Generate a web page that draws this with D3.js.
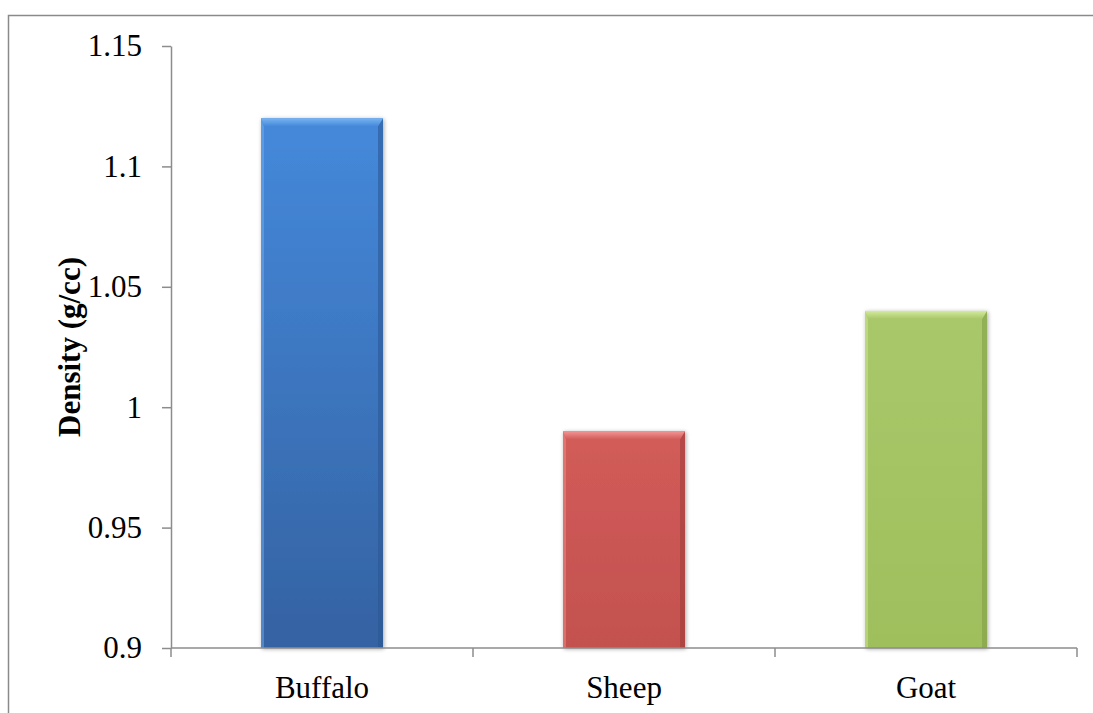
<!DOCTYPE html>
<html>
<head>
<meta charset="utf-8">
<script src="https://cdn.jsdelivr.net/npm/d3@7"></script>
<style>
  html, body { margin: 0; padding: 0; background: #fff; }
  svg { display: block; }
</style>
</head>
<body>
<svg id="chart" width="1093" height="713"></svg>
<script>
// Milk density by species
const categories = ["Buffalo", "Sheep", "Goat"];
const densities = [1.12, 0.99, 1.04];
const yTicks = [0.9, 0.95, 1, 1.05, 1.1, 1.15];
const yTickLabels = ["0.9", "0.95", "1", "1.05", "1.1", "1.15"];
const yTitle = "Density (g/cc)";

const FONT = "'Liberation Serif', 'Times New Roman', Tinos, Times, 'DejaVu Serif', serif";

// bar palette: [top, bottom, bevel highlight, dark edge]
const palettes = [
  ["#4589db", "#3462a2", "#7ab4f0", "#2c5590"],
  ["#d25c59", "#c3514e", "#f29593", "#9c3b39"],
  ["#a9c86a", "#9fbf5d", "#d2eb9e", "#7f9c45"]
];

const svg = d3.select("#chart");
const W = 1093, H = 713;
const plot = { left: 171, right: 1077, top: 46, bottom: 648 };

// outer frame
svg.append("rect")
  .attr("x", 8.5).attr("y", 15.5)
  .attr("width", W + 20).attr("height", H + 20)
  .attr("fill", "none").attr("stroke", "#8a8a8a").attr("stroke-width", 1.5);

const x = d3.scaleBand().domain(categories).range([plot.left, plot.right]).padding(0);
const y = d3.scaleLinear().domain([0.9, 1.15]).range([plot.bottom, plot.top]);

const defs = svg.append("defs");
palettes.forEach((p, i) => {
  const g = defs.append("linearGradient").attr("id", "body" + i)
    .attr("x1", 0).attr("y1", 0).attr("x2", 0).attr("y2", 1);
  g.append("stop").attr("offset", "0%").attr("stop-color", p[0]);
  g.append("stop").attr("offset", "100%").attr("stop-color", p[1]);
  const h = defs.append("linearGradient").attr("id", "hi" + i)
    .attr("x1", 0).attr("y1", 0).attr("x2", 0).attr("y2", 1);
  h.append("stop").attr("offset", "0%").attr("stop-color", p[2]);
  h.append("stop").attr("offset", "100%").attr("stop-color", p[0]);
});
const shadow = defs.append("filter").attr("id", "shadow")
  .attr("x", "-10%").attr("y", "-10%").attr("width", "120%").attr("height", "120%");
shadow.append("feGaussianBlur").attr("in", "SourceAlpha").attr("stdDeviation", 2).attr("result", "b");
shadow.append("feOffset").attr("in", "b").attr("dx", 1).attr("dy", 1).attr("result", "o");
shadow.append("feComponentTransfer").attr("in", "o").attr("result", "s")
  .append("feFuncA").attr("type", "linear").attr("slope", 0.35);
const merge = shadow.append("feMerge");
merge.append("feMergeNode").attr("in", "s");
merge.append("feMergeNode").attr("in", "SourceGraphic");

// bars with bevelled edges
const barFrac = 0.404;
const bars = svg.append("g").selectAll("g").data(categories).join("g")
  .attr("filter", "url(#shadow)");
bars.each(function (c, i) {
  const g = d3.select(this);
  const bw = x.bandwidth() * barFrac;
  const x0 = x(c) + (x.bandwidth() - bw) / 2, x1 = x0 + bw;
  const y0 = y(densities[i]), y1 = y(0.9);
  const bev = 8, side = 5;
  const p = palettes[i];
  g.append("rect").attr("x", x0).attr("y", y0).attr("width", bw).attr("height", y1 - y0)
    .attr("fill", `url(#body${i})`);
  // right dark edge
  g.append("path")
    .attr("d", `M${x1},${y0} L${x1 - side},${y0 + bev} L${x1 - side},${y1} L${x1},${y1} Z`)
    .attr("fill", p[3]).attr("opacity", 0.55);
  // left light edge
  g.append("path")
    .attr("d", `M${x0},${y0} L${x0 + 3},${y0 + bev} L${x0 + 3},${y1} L${x0},${y1} Z`)
    .attr("fill", p[2]).attr("opacity", 0.45);
  // top bevel highlight
  g.append("path")
    .attr("d", `M${x0},${y0} L${x1},${y0} L${x1 - side},${y0 + bev} L${x0 + 3},${y0 + bev} Z`)
    .attr("fill", `url(#hi${i})`);
});

// axes
const axisColor = "#8c8c8c";
const yAxis = svg.append("g").attr("transform", `translate(${plot.left},0)`)
  .call(d3.axisLeft(y).tickValues(yTicks).tickFormat((d, i) => yTickLabels[i]).tickSize(9).tickSizeOuter(0).tickPadding(20));
yAxis.attr("font-family", null).attr("font-size", null);
yAxis.select(".domain").attr("stroke", axisColor).attr("stroke-width", 1.5);
yAxis.selectAll(".tick line").attr("stroke", axisColor).attr("stroke-width", 1.5);
yAxis.selectAll(".tick text").style("font-size", "31px").style("font-family", FONT).attr("fill", "#000");

const xAxis = svg.append("g").attr("transform", `translate(0,${plot.bottom})`)
  .call(d3.axisBottom(x).tickSize(0).tickPadding(28));
xAxis.attr("font-family", null).attr("font-size", null);
xAxis.select(".domain").attr("stroke", axisColor).attr("stroke-width", 1.5)
  .attr("d", `M${plot.left},0H${plot.right}`);
xAxis.selectAll(".tick text").style("font-size", "31px").style("font-family", FONT).attr("fill", "#000");
// separators between categories
const bounds = categories.map(c => x(c)).concat([plot.right]);
xAxis.selectAll("line.sep").data(bounds).join("line").attr("class", "sep")
  .attr("x1", d => d).attr("x2", d => d).attr("y1", 0).attr("y2", 9)
  .attr("stroke", axisColor).attr("stroke-width", 1.5);

// y title
svg.append("text")
  .attr("transform", `translate(80,${(plot.top + plot.bottom) / 2}) rotate(-90)`)
  .attr("text-anchor", "middle")
  .style("font-size", "31px").style("font-weight", "bold").style("font-family", FONT)
  .attr("fill", "#000")
  .text(yTitle);
</script>
</body>
</html>
